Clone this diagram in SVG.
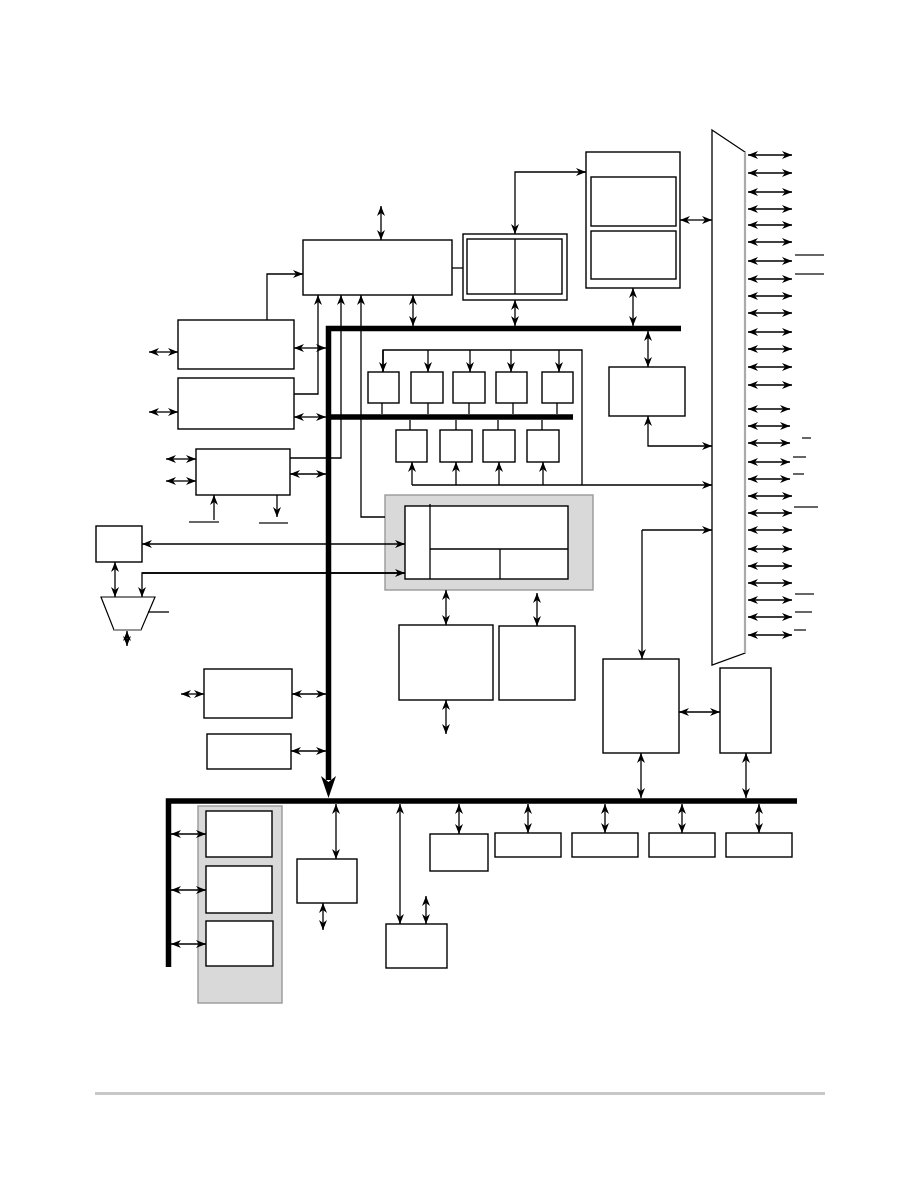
<svg xmlns="http://www.w3.org/2000/svg" width="918" height="1188" viewBox="0 0 918 1188">
<style>
.b{fill:#fff;stroke:#000;stroke-width:1.4}
.g{fill:#d9d9d9;stroke:#999;stroke-width:1.4}
.l{fill:none;stroke:#000;stroke-width:1.3}
.a{fill:none;stroke:#000;stroke-width:1.3;marker-end:url(#ah)}
.d{fill:none;stroke:#000;stroke-width:1.3;marker-start:url(#ah);marker-end:url(#ah)}
.bus{fill:none;stroke:#000;stroke-width:5.5}
.ov{stroke:#000;stroke-width:1.2}
</style>
<defs>
<marker id="ah" viewBox="0 0 10 10" refX="10" refY="5" markerWidth="10" markerHeight="8" preserveAspectRatio="none" markerUnits="userSpaceOnUse" orient="auto-start-reverse"><path d="M0,0 L10,5 L0,10 L3,5 z" fill="#000"/></marker>
</defs>
<rect width="918" height="1188" fill="#fff"/>

<g id="buses">
<path class="bus" d="M681,328.5 H328.5 V780"/>
<polygon points="321,776 328.5,798 336,776 328.5,782" fill="#000"/>
<path class="bus" d="M328,417 H573"/>
<path class="bus" d="M168.5,967 V801 H797"/>
</g>

<g id="nodes">
<rect id="main" class="b" x="303" y="240" width="149" height="55"/>
<g id="dual"><rect class="b" x="463" y="234" width="104" height="66"/><rect class="b" x="467" y="239" width="95" height="55"/><line class="l" x1="515" y1="239" x2="515" y2="294"/></g>
<g id="mem"><rect class="b" x="586" y="152" width="94" height="136"/><rect class="b" x="591" y="177" width="85" height="49"/><rect class="b" x="591" y="231" width="85" height="48"/></g>
<g id="pins"><polygon points="712,130 745,152 745,653 712,665" fill="#fff" stroke="#000" stroke-width="1.3"/><line x1="745" y1="152" x2="745" y2="653" stroke="#aaa" stroke-width="2.2"/></g>
<rect id="boxA" class="b" x="178" y="320" width="116" height="49"/>
<rect id="boxB" class="b" x="178" y="378" width="116" height="51"/>
<rect id="boxC" class="b" x="196" y="449" width="94" height="46"/>
<rect id="boxD" class="b" x="609" y="367" width="76" height="49"/>
<g id="top5">
<rect class="b" x="368" y="372" width="31" height="31"/>
<rect class="b" x="411" y="372" width="32" height="31"/>
<rect class="b" x="453" y="372" width="32" height="31"/>
<rect class="b" x="496" y="372" width="31" height="31"/>
<rect class="b" x="542" y="372" width="31" height="31"/>
</g>
<g id="bot4">
<rect class="b" x="396" y="430" width="31" height="32"/>
<rect class="b" x="440" y="430" width="32" height="32"/>
<rect class="b" x="483" y="430" width="32" height="32"/>
<rect class="b" x="527" y="430" width="32" height="32"/>
</g>
<g id="core"><rect class="g" x="385" y="495" width="208" height="95"/><rect class="b" x="405" y="506" width="163" height="73"/><line class="l" x1="430" y1="504" x2="430" y2="579"/><line class="l" x1="430" y1="549" x2="568" y2="549"/><line class="l" x1="500" y1="549" x2="500" y2="579"/></g>
<rect id="osc" class="b" x="96" y="526" width="46" height="36"/>
<g id="mux"><polygon points="101,597 155,597 141,630 114,630" fill="#fff" stroke="#000" stroke-width="1.2"/><line x1="114" y1="630" x2="141" y2="630" stroke="#999" stroke-width="1.8"/></g>
<rect id="boxP" class="b" x="399" y="625" width="94" height="75"/>
<rect id="boxQ" class="b" x="499" y="626" width="76" height="74"/>
<rect id="boxE" class="b" x="603" y="659" width="76" height="94"/>
<rect id="boxF" class="b" x="720" y="668" width="51" height="85"/>
<rect id="boxG" class="b" x="204" y="669" width="88" height="49"/>
<rect id="boxH" class="b" x="207" y="734" width="84" height="35"/>
<g id="col"><rect class="g" x="198" y="806" width="84" height="197"/><rect class="b" x="206" y="811" width="66" height="46"/><rect class="b" x="206" y="866" width="66" height="47"/><rect class="b" x="206" y="921" width="67" height="45"/></g>
<rect id="boxI" class="b" x="297" y="859" width="60" height="44"/>
<rect id="boxJ" class="b" x="386" y="924" width="61" height="44"/>
<rect id="boxK" class="b" x="430" y="834" width="58" height="37"/>
<rect id="boxL" class="b" x="495" y="833" width="66" height="24"/>
<rect id="boxM" class="b" x="572" y="833" width="66" height="24"/>
<rect id="boxN" class="b" x="649" y="833" width="66" height="24"/>
<rect id="boxO" class="b" x="726" y="833" width="66" height="24"/>
</g>

<g id="connectors">
<line class="d" x1="381" y1="206" x2="381" y2="240"/>
<path class="a" d="M267,320 V274 H303"/>
<path class="a" d="M294,394 H318 V295"/>
<path class="a" d="M290,458 H341 V295"/>
<path class="a" d="M385,517 H361 V295"/>
<line class="d" x1="413" y1="295" x2="413" y2="326"/>
<line class="l" x1="452" y1="268" x2="463" y2="268"/>
<path class="d" d="M586,172 H515 V234"/>
<line class="d" x1="515" y1="300" x2="515" y2="326"/>
<line class="d" x1="633" y1="288" x2="633" y2="326"/>
<line class="d" x1="680" y1="220" x2="712" y2="220"/>
<line class="d" x1="149" y1="352" x2="178" y2="352"/>
<line class="d" x1="294" y1="348" x2="326" y2="348"/>
<line class="d" x1="149" y1="412" x2="178" y2="412"/>
<line class="d" x1="294" y1="417" x2="326" y2="417"/>
<line class="d" x1="166" y1="459" x2="196" y2="459"/>
<line class="d" x1="166" y1="481" x2="196" y2="481"/>
<line class="d" x1="290" y1="474" x2="326" y2="474"/>
<line class="a" x1="214" y1="520" x2="214" y2="495"/>
<line class="ov" x1="189" y1="522" x2="219" y2="522"/>
<line class="a" x1="277" y1="495" x2="277" y2="517"/>
<line class="ov" x1="259" y1="523" x2="288" y2="523"/>
<path class="l" d="M383,372 V350 H582 V485"/>
<line class="a" x1="383" y1="350" x2="383" y2="372"/>
<line class="a" x1="428" y1="350" x2="428" y2="372"/>
<line class="a" x1="470" y1="350" x2="470" y2="372"/>
<line class="a" x1="511" y1="350" x2="511" y2="372"/>
<line class="a" x1="559" y1="350" x2="559" y2="372"/>
<line class="l" x1="382" y1="403" x2="382" y2="414"/>
<line class="l" x1="428" y1="403" x2="428" y2="414"/>
<line class="l" x1="469" y1="403" x2="469" y2="414"/>
<line class="l" x1="513" y1="403" x2="513" y2="414"/>
<line class="l" x1="557" y1="403" x2="557" y2="414"/>
<line class="l" x1="410" y1="420" x2="410" y2="430"/>
<line class="l" x1="456" y1="420" x2="456" y2="430"/>
<line class="l" x1="498" y1="420" x2="498" y2="430"/>
<line class="l" x1="542" y1="420" x2="542" y2="430"/>
<path class="a" d="M412,485 H712"/>
<line class="a" x1="412" y1="485" x2="412" y2="462"/>
<line class="a" x1="456" y1="485" x2="456" y2="462"/>
<line class="a" x1="499" y1="485" x2="499" y2="462"/>
<line class="a" x1="543" y1="485" x2="543" y2="462"/>
<line class="d" x1="648" y1="331" x2="648" y2="367"/>
<path class="d" d="M648,416 V446 H712"/>
<path class="a" d="M642,530 H712"/>
<path class="a" d="M642,530 V659"/>
<line class="d" x1="142" y1="544" x2="405" y2="544"/>
<path class="a" d="M405,573 H142 V597"/>
<line class="a" x1="142" y1="573" x2="405" y2="573" style="marker-end:url(#ah)"/>
<line class="d" x1="115" y1="562" x2="115" y2="597"/>
<line class="l" x1="148" y1="612" x2="169" y2="612"/>
<line class="d" x1="127" y1="631" x2="127" y2="646"/>
<line class="d" x1="446" y1="590" x2="446" y2="625"/>
<line class="d" x1="446" y1="700" x2="446" y2="734"/>
<line class="d" x1="537" y1="593" x2="537" y2="626"/>
<line class="d" x1="679" y1="712" x2="720" y2="712"/>
<line class="d" x1="641" y1="753" x2="641" y2="798"/>
<line class="d" x1="746" y1="753" x2="746" y2="798"/>
<line class="d" x1="181" y1="694" x2="204" y2="694"/>
<line class="d" x1="292" y1="694" x2="326" y2="694"/>
<line class="d" x1="291" y1="751" x2="326" y2="751"/>
<line class="d" x1="171" y1="834" x2="206" y2="834"/>
<line class="d" x1="171" y1="890" x2="206" y2="890"/>
<line class="d" x1="171" y1="944" x2="206" y2="944"/>
<line class="d" x1="336" y1="804" x2="336" y2="859"/>
<line class="d" x1="323" y1="903" x2="323" y2="930"/>
<line class="d" x1="400" y1="804" x2="400" y2="924"/>
<line class="d" x1="426" y1="896" x2="426" y2="924"/>
<line class="d" x1="459" y1="804" x2="459" y2="834"/>
<line class="d" x1="528" y1="804" x2="528" y2="833"/>
<line class="d" x1="605" y1="804" x2="605" y2="833"/>
<line class="d" x1="682" y1="804" x2="682" y2="833"/>
<line class="d" x1="759" y1="804" x2="759" y2="833"/>
</g>

<g id="pin-arrows">
<line class="d" x1="748" y1="155" x2="792" y2="155"/>
<line class="d" x1="748" y1="173" x2="792" y2="173"/>
<line class="d" x1="748" y1="192" x2="792" y2="192"/>
<line class="d" x1="748" y1="209" x2="792" y2="209"/>
<line class="d" x1="748" y1="225" x2="792" y2="225"/>
<line class="d" x1="748" y1="242" x2="792" y2="242"/>
<line class="d" x1="748" y1="261" x2="792" y2="261"/>
<line class="d" x1="748" y1="279" x2="792" y2="279"/>
<line class="d" x1="748" y1="296" x2="792" y2="296"/>
<line class="d" x1="748" y1="313" x2="792" y2="313"/>
<line class="d" x1="748" y1="332" x2="792" y2="332"/>
<line class="d" x1="748" y1="349" x2="792" y2="349"/>
<line class="d" x1="748" y1="367" x2="792" y2="367"/>
<line class="d" x1="748" y1="385" x2="792" y2="385"/>
<line class="d" x1="748" y1="409" x2="790" y2="409"/>
<line class="d" x1="748" y1="426" x2="790" y2="426"/>
<line class="d" x1="748" y1="443" x2="790" y2="443"/>
<line class="d" x1="748" y1="462" x2="790" y2="462"/>
<line class="d" x1="748" y1="479" x2="790" y2="479"/>
<line class="d" x1="748" y1="496" x2="792" y2="496"/>
<line class="d" x1="748" y1="513" x2="792" y2="513"/>
<line class="d" x1="748" y1="530" x2="792" y2="530"/>
<line class="d" x1="748" y1="549" x2="792" y2="549"/>
<line class="d" x1="748" y1="566" x2="792" y2="566"/>
<line class="d" x1="748" y1="583" x2="792" y2="583"/>
<line class="d" x1="748" y1="600" x2="792" y2="600"/>
<line class="d" x1="748" y1="617" x2="792" y2="617"/>
<line class="d" x1="748" y1="635" x2="792" y2="635"/>
<line class="ov" x1="795" y1="255" x2="824" y2="255"/>
<line class="ov" x1="795" y1="274" x2="824" y2="274"/>
<line class="ov" x1="802" y1="438" x2="811" y2="438"/>
<line class="ov" x1="793" y1="457" x2="806" y2="457"/>
<line class="ov" x1="793" y1="474" x2="804" y2="474"/>
<line class="ov" x1="794" y1="507" x2="818" y2="507"/>
<line class="ov" x1="795" y1="594" x2="814" y2="594"/>
<line class="ov" x1="795" y1="612" x2="812" y2="612"/>
<line class="ov" x1="794" y1="630" x2="806" y2="630"/>
</g>

<line id="footer" x1="95" y1="1093.5" x2="825" y2="1093.5" stroke="#c8c8c8" stroke-width="3"/>
</svg>
